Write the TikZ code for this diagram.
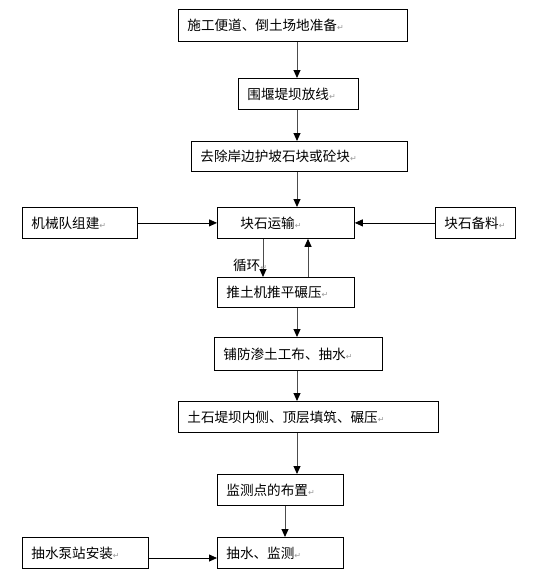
\documentclass[tikz,border=0pt]{standalone}
\usepackage{fontspec}
\newfontfamily\cjk{Noto Sans CJK SC}
\newfontfamily\sym{DejaVu Sans}
\usetikzlibrary{arrows.meta}
\newcommand{\parmark}{{\sym\color{gray!80}\fontsize{8}{8}\selectfont ↵}}
\begin{document}
\begin{tikzpicture}[x=1pt,y=-1pt,
  box/.style={draw,line width=0.8pt,anchor=north west,inner xsep=9pt,inner ysep=0pt,
     align=left,font=\cjk\fontsize{13.6}{14}\selectfont},
  vline/.style={draw=gray!60!black,line width=1pt,-{Triangle[length=8pt,width=7pt,color=black]}},
  hline/.style={draw=black,line width=0.8pt,-{Triangle[length=8pt,width=7pt]}}]
\useasboundingbox (0,0) rectangle (546,576);
\fill[white] (0,0) rectangle (546,576);
\newcommand{\bx}[7][0]{%
  \pgfmathsetmacro{\bw}{#5-#3}\pgfmathsetmacro{\bh}{#6-#4}\pgfmathsetmacro{\tw}{#5-#3-18}%
  \node[box,minimum width=\bw pt,minimum height=\bh pt,text width=\tw pt] (#2) at (#3,#4) {\hspace*{#1pt}#7};}
\bx{a}{178}{9}{407}{41}{施工便道、倒土场地准备\parmark}
\bx{b}{238}{78}{358}{109}{围堰堤坝放线\parmark}
\bx{c}{191}{141}{407}{171}{去除岸边护坡石块或砼块\parmark}
\bx{d}{22}{207}{137}{238}{机械队组建\parmark}
\bx[14]{e}{217}{207}{354}{238}{块石运输\parmark}
\bx{f}{435}{207}{515}{238}{块石备料\parmark}
\bx{g}{217}{277}{354}{307}{推土机推平碾压\parmark}
\bx{h}{214}{337}{382}{370}{铺防渗土工布、抽水\parmark}
\bx{i}{178}{401}{438}{432}{土石堤坝内侧、顶层填筑、碾压\parmark}
\bx{j}{217}{474}{343}{505}{监测点的布置\parmark}
\bx{k}{22}{537}{148}{568}{抽水泵站安装\parmark}
\bx{l}{217}{537}{343}{568}{抽水、监测\parmark}
\draw[vline] (a.south -| 297,0) -- (b.north -| 297,0);
\draw[vline] (b.south -| 297,0) -- (c.north -| 297,0);
\draw[vline] (c.south -| 297,0) -- (e.north -| 297,0);
\draw[vline] (e.south -| 263,0) -- (g.north -| 263,0);
\draw[vline] (g.north -| 308,0) -- (e.south -| 308,0);
\draw[vline] (g.south -| 297,0) -- (h.north -| 297,0);
\draw[vline] (h.south -| 297,0) -- (i.north -| 297,0);
\draw[vline] (i.south -| 297,0) -- (j.north -| 297,0);
\draw[vline] (j.south -| 285,0) -- (l.north -| 285,0);
\draw[hline] (d.east) -- (e.west);
\draw[hline] (f.west) -- (e.east);
\draw[hline] (k.east |- 0,558) -- (l.west |- 0,558);
\node[font=\cjk\fontsize{13.6}{14}\selectfont,inner sep=0pt] (loop) at (250,265) {循环\parmark};
\end{tikzpicture}
\end{document}
